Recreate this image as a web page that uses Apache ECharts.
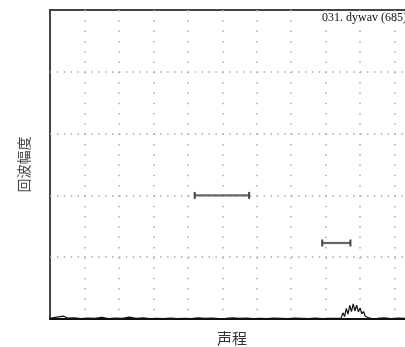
<!DOCTYPE html>
<html>
<head>
<meta charset="utf-8">
<script src="https://cdn.jsdelivr.net/npm/echarts@6/dist/echarts.min.js"></script>
<style>
  html, body { margin: 0; padding: 0; background: #fff; }
  #chart { width: 405px; height: 347px; }
</style>
</head>
<body>
<div id="chart"></div>
<script>
var chartTitle = '031. dywav (685)';
var xName = '声程';
var yName = '回波幅度';

// echo waveform: [path, amplitude]
var baseNoise = [
  [0, 0.2], [0.2, 0.6], [0.4, 0.9], [0.5, 0.3], [0.7, 0.4], [0.9, 0.1], [1.1, 0.3],
  [1.3, 0.2], [1.5, 0.5], [1.7, 0.1], [1.9, 0.3], [2.1, 0.2], [2.3, 0.6], [2.5, 0.2],
  [2.7, 0.4], [2.9, 0.1], [3.1, 0.2], [3.3, 0.1], [3.5, 0.3], [3.7, 0.1], [3.9, 0.2],
  [4.1, 0.1], [4.3, 0.4], [4.5, 0.2], [4.7, 0.3], [4.9, 0.1], [5.1, 0.2], [5.3, 0.4],
  [5.5, 0.2], [5.7, 0.3], [5.9, 0.1], [6.1, 0.2], [6.3, 0.1], [6.5, 0.3], [6.7, 0.2],
  [6.9, 0.1], [7.1, 0.3], [7.3, 0.2], [7.5, 0.1], [7.7, 0.3], [7.9, 0.1], [8.1, 0.2]
];
var echo = [
  [8.35, 0.2], [8.40, 0.8], [8.45, 0.3], [8.50, 2.0], [8.55, 0.8], [8.60, 3.4],
  [8.65, 1.6], [8.70, 4.4], [8.75, 2.4], [8.80, 4.9], [8.85, 2.6], [8.90, 4.5],
  [8.95, 2.3], [9.00, 3.6], [9.05, 1.7], [9.10, 2.4], [9.15, 0.9], [9.20, 1.2],
  [9.25, 0.4], [9.30, 0.5], [9.35, 0.1]
];
var tailNoise = [
  [9.5, 0.2], [9.7, 0.4], [9.9, 0.1], [10.1, 0.3], [10.3, 0.2], [10.5, 0.1],
  [10.7, 0.3], [10.9, 0.1], [11, 0.2]
];
// gates (horizontal bars): [start, end, level]
var gateA = [4.2, 5.78, 40];
var gateB = [7.9, 8.72, 24.6];

var chart = echarts.init(document.getElementById('chart'));

function gateSeries(g) {
  return {
    type: 'line',
    data: [[g[0], g[2]], [g[1], g[2]]],
    symbol: 'rect',
    symbolSize: [2, 7],
    itemStyle: { color: '#444' },
    lineStyle: { color: '#666', width: 2.2 },
    silent: true,
    z: 4
  };
}

var option = {
  animation: false,
  backgroundColor: '#fff',
  title: {
    text: chartTitle,
    left: 317,
    top: 12,
    padding: [0, 5, 0, 5],
    textStyle: { fontFamily: 'Liberation Serif', fontSize: 12, fontWeight: 'normal', color: '#111' }
  },
  grid: {
    left: 50, top: 10, width: 379, height: 309,
    outerBoundsMode: 'none',
    containLabel: false,
    show: true, borderColor: '#444', borderWidth: 2
  },
  xAxis: {
    type: 'value', min: 0, max: 11, interval: 1,
    name: xName, nameLocation: 'middle', nameGap: 12,
    nameTextStyle: { fontFamily: 'Noto Sans CJK SC', fontSize: 15, color: '#333', padding: [0, 15, 0, 0] },
    axisLine: { lineStyle: { color: '#111', width: 2 } },
    axisTick: { show: false },
    axisLabel: { show: false },
    splitLine: { show: true, showMinLine: false, showMaxLine: false, lineStyle: { color: '#aaa', width: 1.5, type: [1.5, 8.8] } }
  },
  yAxis: {
    type: 'value', min: 0, max: 100, interval: 20,
    name: yName, nameLocation: 'middle', nameGap: 19, nameRotate: 90,
    nameTextStyle: { fontFamily: 'Noto Sans CJK SC', fontSize: 14, color: '#444' },
    axisLine: { show: false },
    axisTick: { show: false },
    axisLabel: { show: false },
    splitLine: { show: true, showMinLine: false, showMaxLine: false, lineStyle: { color: '#aaa', width: 1.5, type: [1.5, 5.39] } }
  },
  series: [
    {
      type: 'line',
      data: baseNoise.concat(echo, tailNoise),
      showSymbol: false,
      lineStyle: { color: '#111', width: 1.2 },
      silent: true,
      z: 5
    },
    gateSeries(gateA),
    gateSeries(gateB)
  ]
};

chart.setOption(option);
</script>
</body>
</html>
